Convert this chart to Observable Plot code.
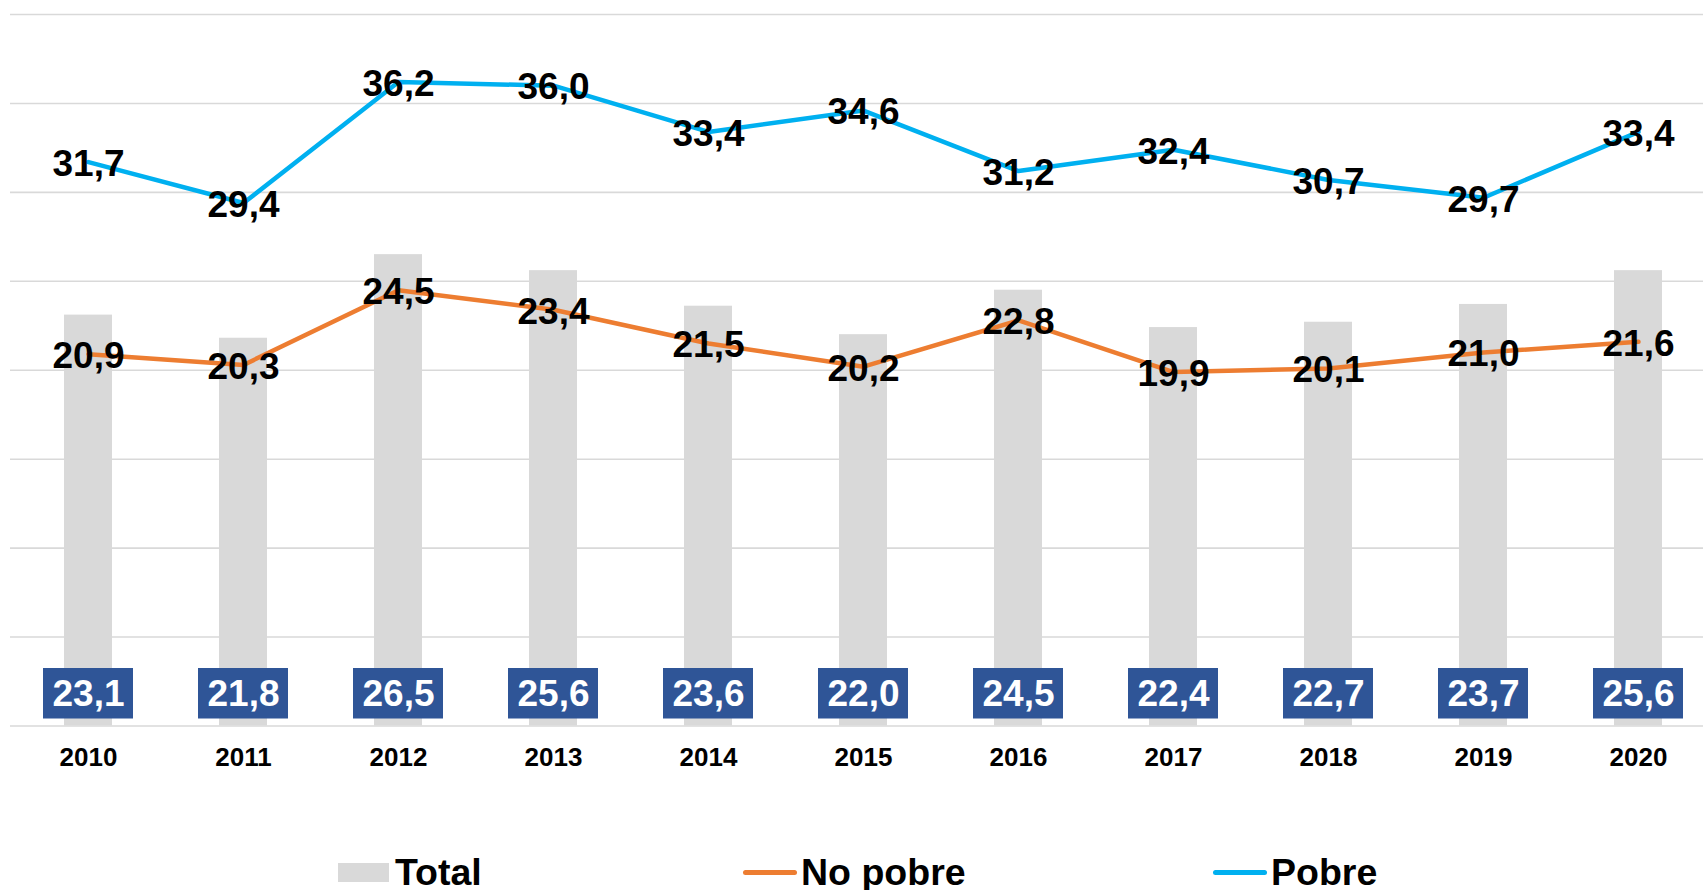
<!DOCTYPE html>
<html>
<head>
<meta charset="utf-8">
<script src="https://cdn.jsdelivr.net/npm/d3@7"></script>
<script src="https://cdn.jsdelivr.net/npm/@observablehq/plot@0.6"></script>
<style>
  html, body { margin: 0; padding: 0; background: #fff; overflow: hidden; }
  body { font-family: "Liberation Sans", Arial, sans-serif; }
  #legend { position: relative; height: 100px; width: 1703px; font-weight: bold; font-size: 37.5px; color: #000; }
  .item { position: absolute; top: 62px; display: flex; align-items: center; height: 40px; }
  .sw-bar { width: 51px; height: 19px; background: #D9D9D9; margin-right: 6px; }
  .sw-line { width: 54px; height: 5px; border-radius: 3px; margin-right: 4px; }
</style>
</head>
<body>
<div id="chart"></div>
<div id="legend"></div>
<script>
const years = ["2010","2011","2012","2013","2014","2015","2016","2017","2018","2019","2020"];
const total = [23.1, 21.8, 26.5, 25.6, 23.6, 22.0, 24.5, 22.4, 22.7, 23.7, 25.6];
const noPobre = [20.9, 20.3, 24.5, 23.4, 21.5, 20.2, 22.8, 19.9, 20.1, 21.0, 21.6];
const pobre = [31.7, 29.4, 36.2, 36.0, 33.4, 34.6, 31.2, 32.4, 30.7, 29.7, 33.4];
const yTicks = [0, 5, 10, 15, 20, 25, 30, 35, 40];
const seriesNames = ["Total", "No pobre", "Pobre"];
const colors = { total: "#D9D9D9", noPobre: "#ED7D31", pobre: "#00B0F0", box: "#2F5597" };

const data = years.map((year, i) => ({ year, total: total[i], noPobre: noPobre[i], pobre: pobre[i] }));
const fmt = v => v.toFixed(1).replace(".", ",");

const chart = Plot.plot({
  width: 1703,
  height: 790,
  marginLeft: 10,
  marginRight: 0,
  marginTop: 14,
  marginBottom: 64.5,
  style: { fontFamily: "'Liberation Sans', Arial, sans-serif", color: "#000", background: "#fff" },
  x: { type: "band", domain: years, range: [10, 1716], paddingInner: 0.69, paddingOuter: 0.345, label: null },
  y: { domain: [0, 40], axis: null },
  marks: [
    Plot.ruleY(yTicks, { stroke: "#D9D9D9", strokeWidth: 1.6 }),
    Plot.barY(data, { x: "year", y: "total", fill: colors.total }),
    Plot.line(data, { x: "year", y: "noPobre", stroke: colors.noPobre, strokeWidth: 4.5 }),
    Plot.line(data, { x: "year", y: "pobre", stroke: colors.pobre, strokeWidth: 4.5 }),
    Plot.text(data, { x: "year", y: "noPobre", text: d => fmt(d.noPobre), dy: 2, fontSize: 37, fontWeight: "bold", fill: "#000" }),
    Plot.text(data, { x: "year", y: "pobre", text: d => fmt(d.pobre), dy: 2, fontSize: 37, fontWeight: "bold", fill: "#000" }),
    Plot.cell(data, { x: "year", fill: colors.box, insetTop: 654, insetBottom: 7, insetLeft: -21, insetRight: -21 }),
    Plot.text(data, { x: "year", text: d => fmt(d.total), frameAnchor: "bottom", lineAnchor: "middle", dy: -31.5, fontSize: 37, fontWeight: "bold", fill: "#fff" }),
    Plot.axisX({ tickSize: 0, tickPadding: 22, fontSize: 26, fontWeight: "bold", fill: "#000" })
  ]
});
document.getElementById("chart").appendChild(chart);

const legend = document.getElementById("legend");
const items = [
  { name: seriesNames[0], cls: "sw-bar", color: colors.total, left: 338 },
  { name: seriesNames[1], cls: "sw-line", color: colors.noPobre, left: 743 },
  { name: seriesNames[2], cls: "sw-line", color: colors.pobre, left: 1213 }
];
for (const it of items) {
  const el = document.createElement("div");
  el.className = "item";
  el.style.left = it.left + "px";
  const sw = document.createElement("span");
  sw.className = it.cls;
  sw.style.background = it.color;
  const tx = document.createElement("span");
  tx.textContent = it.name;
  el.appendChild(sw);
  el.appendChild(tx);
  legend.appendChild(el);
}
</script>
</body>
</html>
